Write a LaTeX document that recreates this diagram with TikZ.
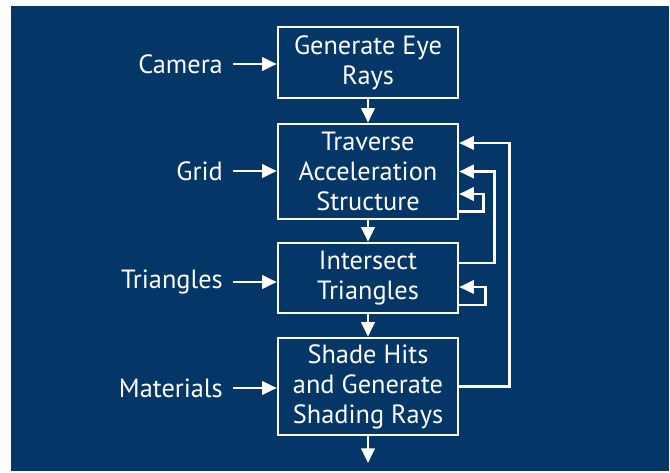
\documentclass[tikz,border=0pt]{standalone}
\usepackage{fontspec}
\setmainfont{PT Sans}
\usetikzlibrary{arrows.meta}
\definecolor{slideblue}{RGB}{5,54,104}

\begin{document}
\begin{tikzpicture}[x=0.03cm,y=-0.03cm,
    stage/.style={draw=white,line width=2.1pt,minimum width=5.4cm,align=center,text=white,
      font=\fontsize{22.5}{25.6}\selectfont},
    inlabel/.style={anchor=east,text=white,inner xsep=0.3cm,font=\fontsize{22.5}{25}\selectfont},
    flow/.style={draw=white,line width=2.4pt,-{Triangle[length=4.4mm,width=4mm]}}]
  \useasboundingbox (0,0) rectangle (670,472);
  \fill[slideblue] (11,6) rectangle (669,471);

  \node[stage,minimum height=2.13cm] (gen) at (368,62.5) {Generate Eye\\Rays};
  \node[stage,minimum height=2.85cm] (trav) at (368,171.5) {Traverse\\Acceleration\\Structure};
  \node[stage,minimum height=2.1cm] (isect) at (368,278) {Intersect\\Triangles};
  \node[stage,minimum height=2.91cm] (shade) at (368,386.5) {Shade Hits\\and Generate\\Shading Rays};
  \coordinate (out) at (368,463);

  \node[inlabel] (camera) at (233,64) {Camera};
  \node[inlabel] (grid) at (233,171) {Grid};
  \node[inlabel] (tris) at (233,282) {Triangles};
  \node[inlabel] (mats) at (233,388) {Materials};

  \draw[flow] (camera.east) -- (camera.east -| gen.west);
  \draw[flow] (grid.east) -- (grid.east -| trav.west);
  \draw[flow] (tris.east) -- (tris.east -| isect.west);
  \draw[flow] (mats.east) -- (mats.east -| shade.west);

  \draw[flow] (gen) -- (trav);
  \draw[flow] (trav) -- (isect);
  \draw[flow] (isect) -- (shade);
  \draw[flow] (shade) -- (out);

  % feedback loops on the right
  \draw[flow] (shade.east) -- ++(50,0) |- ([yshift=0.855cm]trav.east);
  \draw[flow] ([yshift=0.45cm]isect.east) -- ++(35,0) |- (trav.east);
  \draw[flow] ([yshift=-1.19cm]trav.east) -- ++(24,0) |- ([yshift=-0.675cm]trav.east);
  \draw[flow] ([yshift=-0.81cm]isect.east) -- ++(26,0) |- ([yshift=-0.27cm]isect.east);
\end{tikzpicture}
\end{document}
